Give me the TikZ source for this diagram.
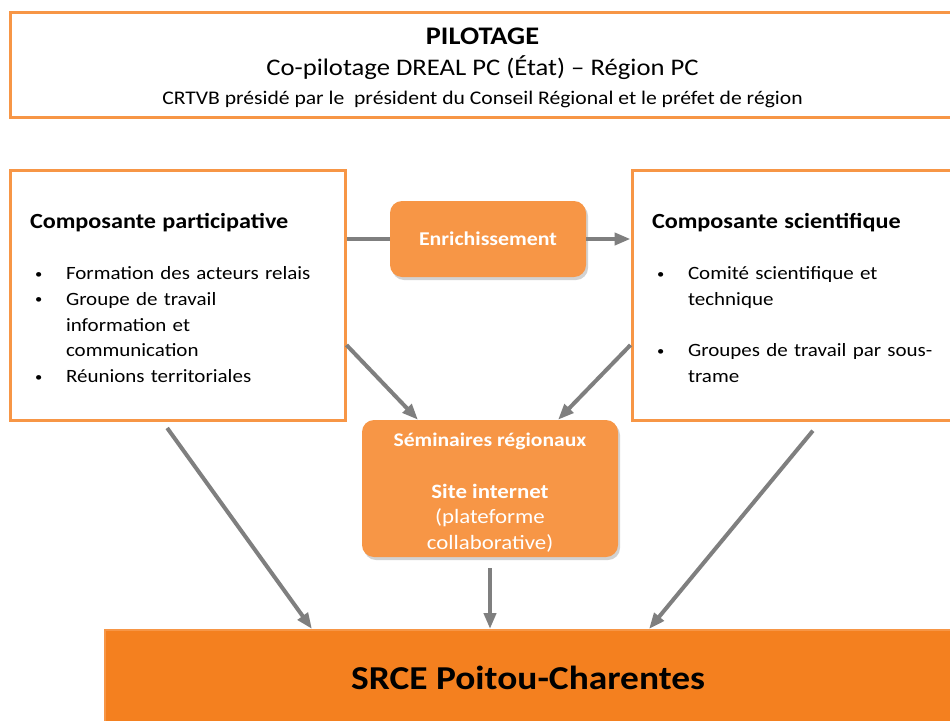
\documentclass[tikz,border=0pt]{standalone}
\usepackage{fontspec}
\setmainfont{Carlito}[FakeStretch=1.12]
\usetikzlibrary{arrows.meta, positioning, calc, shadows}
\definecolor{cadreOrange}{HTML}{F79646}
\definecolor{srceOrange}{HTML}{F4801F}
\definecolor{flecheGris}{HTML}{7F7F7F}

% lignes des listes a puces
\newcommand{\puce}[1]{\mbox{\hspace*{5pt}\makebox[31pt][l]{\raisebox{1.5pt}{\fontsize{13}{13}\selectfont\textbullet}}#1}}
\newcommand{\suite}[1]{\mbox{\hspace*{36pt}#1}}

\begin{document}
\begin{tikzpicture}[
    x=1pt, y=-1pt,
    cadre/.style={
        draw=cadreOrange, line width=3pt, fill=white, inner sep=0pt
    },
    bloc/.style={
        fill=cadreOrange, rounded corners=12pt, text=white, align=center,
        inner sep=0pt,
        drop shadow={opacity=0.35, shadow xshift=2pt, shadow yshift=-3pt}
    },
    corps/.style={font=\fontsize{18.75}{25.7}\selectfont},
    ligne/.style={draw=flecheGris, line width=4pt},
    fleche/.style={ligne, -{Triangle[length=16pt,width=12pt]}},
]
    \useasboundingbox (0,0) rectangle (950,720);
    \fill[white] (0,0) rectangle (950,720);

    % pilotage
    \node[cadre, minimum width=945pt, minimum height=105pt, align=center,
          font=\fontsize{19.3}{30}\selectfont] (pilotage) at (482.5,64.5)
        {\rule{0pt}{24pt}{\fontsize{25.3}{30}\selectfont\bfseries PILOTAGE}\\[1pt]
         {\fontsize{23.8}{30}\selectfont Co-pilotage DREAL PC (État) – Région PC}\\[-1pt]
         CRTVB présidé par le\ \ président du Conseil Régional et le préfet de région};

    % composantes
    \node[cadre, corps, minimum width=335pt, minimum height=250pt,
          text width=295pt, align=left] (partic) at (177.5,295)
        {\rule{0pt}{21pt}{\fontsize{21.6}{25.7}\selectfont\bfseries Composante participative}\\[25.7pt]
         \puce{Formation des acteurs relais}\\
         \puce{Groupe de travail}\\
         \suite{information et}\\
         \suite{communication}\\
         \puce{Réunions territoriales}};
    \node[cadre, corps, minimum width=323pt, minimum height=250pt,
          text width=283pt, align=left] (sci) at (793.5,295)
        {\rule{0pt}{21pt}{\fontsize{21.6}{25.7}\selectfont\bfseries Composante scientifique}\\[25.7pt]
         \puce{Comité scientifique et}\\
         \suite{technique}\\[25.7pt]
         \puce{Groupes de travail par sous-}\\
         \suite{trame}};

    % blocs centraux
    \node[bloc, font=\fontsize{19.5}{25.7}\selectfont, minimum width=196pt,
          minimum height=76pt] (enrich) at (488,239)
        {\textbf{Enrichissement}};
    \node[bloc, font=\fontsize{20.4}{25.7}\selectfont, minimum width=256pt,
          minimum height=137pt] (sem) at (490,488.5)
        {\rule{0pt}{22pt}{\fontsize{19.3}{25.7}\selectfont\bfseries Séminaires régionaux}\\[25.7pt]
         \textbf{Site internet}\\
         (plateforme\\
         collaborative)};

    % SRCE
    \node[fill=srceOrange, draw=cadreOrange, line width=2pt, minimum width=846pt,
          minimum height=95pt, font=\fontsize{33.4}{40}\selectfont\bfseries]
        (srce) at (528,677.5) {SRCE Poitou-Charentes};

    % fleches
    \draw[ligne] (partic.east |- enrich.west) -- (enrich.west);
    \draw[fleche] (enrich.east) -- (enrich.east -| sci.west);
    \draw[fleche] ([yshift=-50pt]partic.east) -- ([xshift=-72pt]sem.north);
    \draw[fleche] ([yshift=-50pt]sci.west) -- ([xshift=68pt]sem.north);
    \draw[fleche, shorten <=8pt] ([xshift=-15pt]partic.south)
        -- ([xshift=208pt]srce.north west);
    \draw[fleche, shorten <=11pt] (sem.south) -- (sem.south |- srce.north);
    \draw[fleche, shorten <=12pt] ([xshift=27pt]sci.south)
        -- ([xshift=545pt]srce.north west);
\end{tikzpicture}
\end{document}
